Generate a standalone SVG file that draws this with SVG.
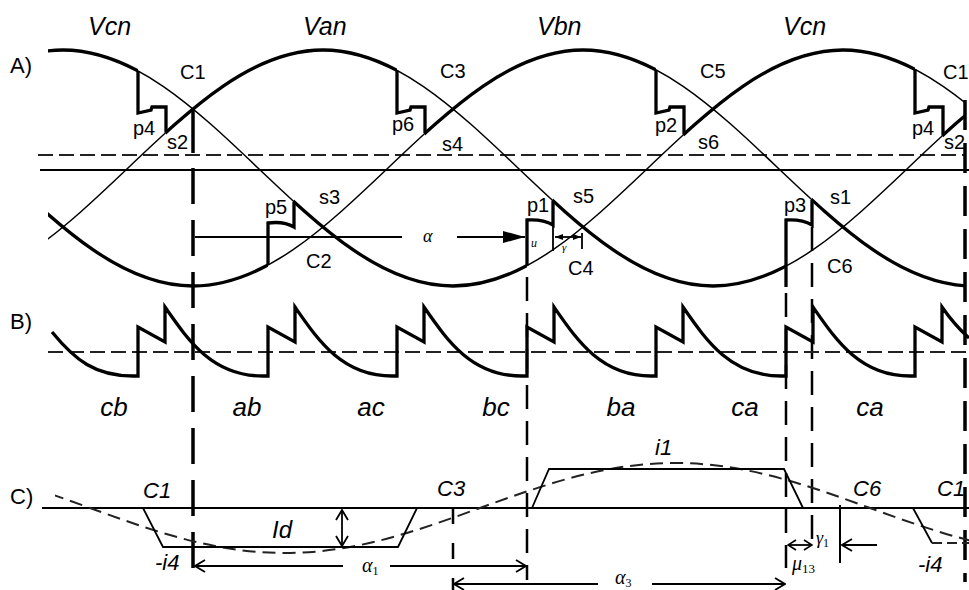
<svg xmlns="http://www.w3.org/2000/svg" width="969" height="590" viewBox="0 0 969 590">
<style>
.thin{fill:none;stroke:#000;stroke-width:1.5}
.thick{fill:none;stroke:#000;stroke-width:3.3;stroke-linejoin:miter}
.hd{fill:none;stroke:#222;stroke-width:2;stroke-dasharray:15 6}
.vd{fill:none;stroke:#000;stroke-width:3.5;stroke-dasharray:36 16}
.vd2{fill:none;stroke:#000;stroke-width:2.5;stroke-dasharray:24 12}
.cd{fill:none;stroke:#222;stroke-width:2;stroke-dasharray:13 7}
.ln{fill:none;stroke:#000;stroke-width:1.8}
.sans{font-family:"Liberation Sans",Arial,sans-serif;fill:#000}
.lbl{font-size:20px}
.ph{font-size:25px;font-style:italic}
.sec{font-size:22px}
.bl{font-size:26px;font-style:italic;text-anchor:middle}
.cl{font-size:22px;font-style:italic}
.gr{font-family:"Liberation Serif","Times New Roman",serif;font-style:italic;fill:#000}
</style>
<defs>
<path id="vcn" d="M-132,168 C-68.4,107.55 -7.6,50 63,50 C133.6,50 194.4,107.55 258,168 C321.6,228.45 382.4,286 453,286 C523.6,286 584.4,228.45 648,168 C711.6,107.55 772.4,50 843,50 C913.6,50 974.4,107.55 1038,168"/>
<path id="van" d="M-262,168 C-198.4,228.45 -137.6,286 -67,286 C3.6,286 64.4,228.45 128,168 C191.6,107.55 252.4,50 323,50 C393.6,50 454.4,107.55 518,168 C581.6,228.45 642.4,286 713,286 C783.6,286 844.4,228.45 908,168 C971.6,107.55 1032.4,50 1103,50"/>
<path id="vbn" d="M-197,50 C-126.4,50 -65.6,107.55 -2,168 C61.6,228.45 122.4,286 193,286 C263.6,286 324.4,228.45 388,168 C451.6,107.55 512.4,50 583,50 C653.6,50 714.4,107.55 778,168 C841.6,228.45 902.4,286 973,286"/>
<clipPath id="cAll"><rect x="48" y="0" width="918" height="300"/></clipPath>
<clipPath id="cVcn"><rect x="48" y="0" width="90" height="300"/><rect x="294" y="0" width="233" height="300"/><rect x="684" y="0" width="231" height="300"/></clipPath>
<clipPath id="cVan"><rect x="166" y="0" width="231" height="300"/><rect x="553" y="0" width="233" height="300"/><rect x="943" y="0" width="23" height="300"/></clipPath>
<clipPath id="cVbn"><rect x="48" y="0" width="220" height="300"/><rect x="425" y="0" width="231" height="300"/><rect x="812" y="0" width="154" height="300"/></clipPath>
<clipPath id="cCur"><rect x="55" y="420" width="914" height="170"/></clipPath>
<marker id="chev" viewBox="0 0 12 14" refX="11" refY="7" markerWidth="12" markerHeight="14" markerUnits="userSpaceOnUse" orient="auto-start-reverse"><path d="M1,1 L11,7 L1,13" fill="none" stroke="#000" stroke-width="1.8"/></marker>
<marker id="chevS" viewBox="0 0 10 12" refX="9" refY="6" markerWidth="10" markerHeight="12" markerUnits="userSpaceOnUse" orient="auto-start-reverse"><path d="M1,1 L9,6 L1,11" fill="none" stroke="#000" stroke-width="1.6"/></marker>
<marker id="fill" viewBox="0 0 22 12" refX="22" refY="6" markerWidth="22" markerHeight="12" markerUnits="userSpaceOnUse" orient="auto"><path d="M0,0 L22,6 L0,12 z" fill="#000"/></marker>
<marker id="fillS" viewBox="0 0 8 6" refX="8" refY="3" markerWidth="8" markerHeight="6" markerUnits="userSpaceOnUse" orient="auto-start-reverse"><path d="M0,0 L8,3 L0,6 z" fill="#000"/></marker>
</defs>

<g id="part-a">
  <g id="a-axes">
    <path class="hd" d="M38,155 H966"/>
    <path class="ln" d="M40,170 H969"/>
  </g>
  <g id="a-phase-thin" clip-path="url(#cAll)">
    <use href="#vcn" class="thin"/>
    <use href="#van" class="thin"/>
    <use href="#vbn" class="thin"/>
  </g>
  <g id="a-envelope">
    <use href="#vcn" class="thick" clip-path="url(#cVcn)"/>
    <use href="#van" class="thick" clip-path="url(#cVan)"/>
    <use href="#vbn" class="thick" clip-path="url(#cVbn)"/>
  </g>
  <g id="a-notches" class="thick">
    <path d="M138,70.9 V113 L151,110 L152,107 L166,107 V132.4"/>
    <path d="M397,70.4 V113 L410,110 L411,107 L425,107 V133.3"/>
    <path d="M656,69.8 V113 L669,110 L670,107 L684,107 V134.2"/>
    <path d="M915,69.3 V113 L928,110 L929,107 L943,107 V135.2"/>
    <path d="M268,265.1 V223 Q284,221 294,227 V201.8"/>
    <path d="M527,265.6 V220 Q543,219 553,225 V200.8"/>
    <path d="M786,287 V220 Q802,219 812,225 V199.9"/>
  </g>
  <g id="a-alpha">
    <path class="ln" d="M195,237 H402"/>
    <path class="ln" d="M457,237 H525" marker-end="url(#fill)"/>
    <path class="ln" d="M555,237 H581" stroke-width="1.4" marker-start="url(#fillS)" marker-end="url(#fillS)"/>
    <path class="ln" d="M553,226 V251 M582,233 V249" stroke-width="1.4"/>
  </g>
</g>

<g id="guides">
  <path d="M193,109 V153" stroke="#000" stroke-width="3.5"/>
  <path class="vd" d="M193,168 V582"/>
  <path class="vd2" d="M527,277 V580"/>
  <path class="vd2" d="M786,293 V568"/>
  <path class="vd2" d="M812,227 V543"/>
  <path class="vd" d="M965,100 V582" style="stroke-dasharray:30 13"/>
  <path class="vd2" d="M453,508 V590" style="stroke-dasharray:16 19"/>
  <path d="M840,505 V563" stroke="#000" stroke-width="2"/>
</g>

<g id="part-b">
  <path class="hd" d="M48,352 H969"/>
  <path class="thick" d="M52,332 C75,360 95,376 133,376 L138,376 V327 L165,342 V307 C188,340 212,376 263,376 L268,376 V327 L295,342 V307 C318,340 342,376 392,376 L397,376 V327 L424,342 V307 C447,340 471,376 522,376 L527,376 V327 L554,342 V307 C577,340 601,376 651,376 L656,376 V327 L683,342 V307 C706,340 730,376 781,376 L786,376 V327 L813,342 V307 C836,340 860,376 910,376 L915,376 V327 L942,342 V307 C951,320 960,330 969,338"/>
</g>

<g id="part-c">
  <path class="ln" d="M42,508 H969"/>
  <path class="cd" clip-path="url(#cCur)" d="M-105,463 C-34.4,463 26.4,484.95 90,508 C153.6,531.05 214.4,553 285,553 C355.6,553 416.4,531.05 480,508 C543.6,484.95 604.4,463 675,463 C745.6,463 806.4,484.95 870,508 C933.6,531.05 994.4,553 1065,553"/>
  <path class="ln" d="M143,508 L163,547 L398,547 L417,508"/>
  <path class="ln" d="M532,508 L549,469 L784,469 L803,508"/>
  <path class="ln" d="M913,508 L932,543"/>
  <path class="cd" d="M932,543 H969" style="stroke-dasharray:10 5"/>
  <path class="ln" d="M342,510 V546" stroke-width="1.6" marker-start="url(#chev)" marker-end="url(#chev)"/>
  <path class="ln" d="M195,566 H343" marker-start="url(#chev)"/>
  <path class="ln" d="M390,566 H526" marker-end="url(#chev)"/>
  <path class="ln" d="M454,584 H598" marker-start="url(#chev)"/>
  <path class="ln" d="M652,584 H785" marker-end="url(#chev)"/>
  <path class="ln" d="M788,545 H812" marker-start="url(#chevS)" marker-end="url(#chevS)"/>
  <path class="ln" d="M877,545 H842" marker-end="url(#chev)"/>
</g>

<g id="labels" class="sans">
  <text class="ph" x="88" y="35">Vcn</text>
  <text class="ph" x="303" y="35">Van</text>
  <text class="ph" x="537" y="35">Vbn</text>
  <text class="ph" x="783" y="35">Vcn</text>
  <text class="sec" x="10" y="73">A)</text>
  <text class="sec" x="10" y="329">B)</text>
  <text class="sec" x="10" y="504">C)</text>

  <g class="lbl">
    <text x="180" y="79">C1</text>
    <text x="133" y="135">p4</text>
    <text x="167" y="149">s2</text>
    <text x="265" y="214">p5</text>
    <text x="319" y="204">s3</text>
    <text x="306" y="268">C2</text>
    <text x="392" y="131">p6</text>
    <text x="440" y="78">C3</text>
    <text x="442" y="151">s4</text>
    <text x="527" y="212">p1</text>
    <text x="573" y="203">s5</text>
    <text x="568" y="275">C4</text>
    <text x="700" y="78">C5</text>
    <text x="655" y="132">p2</text>
    <text x="698" y="149">s6</text>
    <text x="784" y="212">p3</text>
    <text x="830" y="204">s1</text>
    <text x="827" y="273">C6</text>
    <text x="912" y="135">p4</text>
    <text x="943" y="79">C1</text>
    <text x="944" y="149">s2</text>
  </g>

  <g class="bl">
    <text x="114" y="416">cb</text>
    <text x="247" y="416">ab</text>
    <text x="371" y="416">ac</text>
    <text x="496" y="416">bc</text>
    <text x="621" y="416">ba</text>
    <text x="745" y="416">ca</text>
    <text x="870" y="416">ca</text>
  </g>

  <g class="cl">
    <text x="143" y="498">C1</text>
    <text x="437" y="496">C3</text>
    <text x="853" y="496">C6</text>
    <text x="937" y="496">C1</text>
    <text x="655" y="455">i1</text>
    <text x="272" y="538" style="font-size:24px">Id</text>
    <text x="155" y="570">-i4</text>
    <text x="918" y="572">-i4</text>
  </g>
</g>

<g id="greek" class="gr">
  <text x="423" y="242" font-size="18">α</text>
  <text x="531" y="247" font-size="12">u</text>
  <text x="562" y="251" font-size="11">γ</text>
  <text x="362" y="572" font-size="20">α<tspan font-size="12" font-style="normal" dy="3">1</tspan></text>
  <text x="615" y="584" font-size="20">α<tspan font-size="12" font-style="normal" dy="3">3</tspan></text>
  <text x="792" y="570" font-size="20">μ<tspan font-size="13" font-style="normal" dy="3">13</tspan></text>
  <text x="816" y="544" font-size="18">γ<tspan font-size="12" font-style="normal" dy="3">1</tspan></text>
</g>
</svg>
